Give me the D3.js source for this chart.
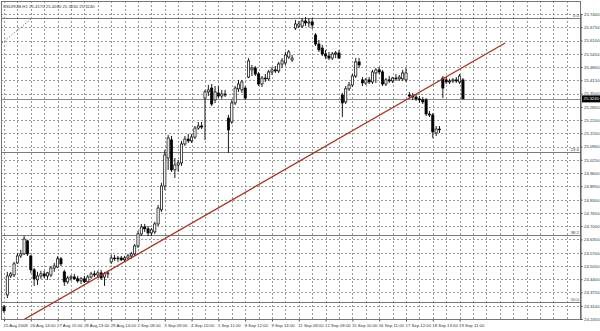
<!DOCTYPE html>
<html>
<head>
<meta charset="utf-8">
<script src="https://cdn.jsdelivr.net/npm/d3@7"></script>
<style>
  html, body { margin: 0; padding: 0; background: #fff; }
  svg { display: block; }
  text { font-family: "Liberation Sans", "DejaVu Sans", sans-serif; }
</style>
</head>
<body>
<svg id="chart" width="600" height="331"></svg>
<script>
// ---------- DATA ----------
const symbolTitle = "USDRUB,H1";

const openP = [
  24.304, 24.363, 24.456, 24.461, 24.520, 24.554, 24.564, 24.628, 24.554, 24.486,
  24.437, 24.456, 24.466, 24.456, 24.461, 24.495, 24.500, 24.540, 24.476, 24.427,
  24.446, 24.451, 24.442, 24.432, 24.442, 24.427, 24.451, 24.466, 24.461, 24.471,
  24.451, 24.466, 24.525, 24.544, 24.540, 24.544, 24.535, 24.544, 24.554, 24.564,
  24.603, 24.662, 24.696, 24.687, 24.667, 24.672, 24.711, 24.780, 24.897, 25.034,
  25.123, 24.976, 25.000, 25.010, 25.103, 25.127, 25.118, 25.137, 25.181, 25.191,
  25.328, 25.358, 25.377, 25.319, 25.353, 25.338, 25.348, 25.230, 25.211, 25.304,
  25.373, 25.368, 25.377, 25.431, 25.466, 25.475, 25.446, 25.397, 25.426, 25.422,
  25.456, 25.466, 25.461, 25.495, 25.500, 25.529, 25.515, 25.671, 25.681, 25.681,
  25.706, 25.696, 25.701, 25.637, 25.593, 25.573, 25.544, 25.534, 25.524, 25.544,
  25.549, 25.343, 25.309, 25.373, 25.392, 25.436, 25.505, 25.417, 25.402, 25.417,
  25.407, 25.451, 25.466, 25.456, 25.397, 25.417, 25.412, 25.426, 25.422, 25.422,
  25.417, 25.343, 25.338, 25.333, 25.324, 25.319, 25.319, 25.250, 25.245, 25.157,
  25.176, 25.426, 25.417, 25.407, 25.412, 25.417, 25.407, 25.417
];
const highP = [
  24.314, 24.476, 24.476, 24.525, 24.569, 24.584, 24.652, 24.633, 24.559, 24.495,
  24.476, 24.481, 24.481, 24.476, 24.505, 24.520, 24.554, 24.549, 24.486, 24.456,
  24.461, 24.466, 24.456, 24.451, 24.456, 24.461, 24.476, 24.481, 24.481, 24.486,
  24.476, 24.481, 24.559, 24.559, 24.554, 24.554, 24.554, 24.564, 24.574, 24.613,
  24.677, 24.711, 24.711, 24.701, 24.691, 24.721, 24.804, 24.912, 25.074, 25.147,
  25.142, 25.034, 25.025, 25.118, 25.142, 25.152, 25.152, 25.191, 25.211, 25.211,
  25.368, 25.392, 25.397, 25.387, 25.387, 25.368, 25.368, 25.245, 25.319, 25.387,
  25.417, 25.417, 25.387, 25.524, 25.490, 25.485, 25.456, 25.436, 25.446, 25.466,
  25.480, 25.485, 25.505, 25.524, 25.554, 25.564, 25.539, 25.711, 25.706, 25.720,
  25.725, 25.720, 25.720, 25.647, 25.613, 25.588, 25.564, 25.554, 25.554, 25.559,
  25.564, 25.353, 25.387, 25.407, 25.446, 25.524, 25.524, 25.431, 25.426, 25.431,
  25.466, 25.475, 25.480, 25.466, 25.426, 25.436, 25.431, 25.446, 25.441, 25.466,
  25.475, 25.358, 25.353, 25.348, 25.338, 25.333, 25.328, 25.265, 25.255, 25.191,
  25.191, 25.436, 25.431, 25.422, 25.426, 25.431, 25.446, 25.426
];
const lowP = [
  24.275, 24.348, 24.446, 24.451, 24.515, 24.544, 24.559, 24.554, 24.471, 24.407,
  24.412, 24.442, 24.446, 24.437, 24.451, 24.476, 24.495, 24.505, 24.407, 24.417,
  24.432, 24.437, 24.422, 24.417, 24.422, 24.422, 24.442, 24.451, 24.446, 24.437,
  24.407, 24.446, 24.515, 24.530, 24.525, 24.530, 24.525, 24.535, 24.540, 24.554,
  24.593, 24.652, 24.672, 24.652, 24.652, 24.662, 24.701, 24.770, 24.878, 24.976,
  24.966, 24.936, 24.966, 24.995, 25.093, 25.108, 25.108, 25.127, 25.172, 25.176,
  25.123, 25.338, 25.289, 25.304, 25.328, 25.324, 25.333, 25.059, 25.201, 25.294,
  25.358, 25.353, 25.319, 25.426, 25.436, 25.436, 25.387, 25.382, 25.407, 25.412,
  25.441, 25.451, 25.451, 25.475, 25.490, 25.520, 25.505, 25.662, 25.671, 25.671,
  25.681, 25.676, 25.667, 25.583, 25.554, 25.534, 25.520, 25.515, 25.515, 25.524,
  25.520, 25.235, 25.299, 25.363, 25.382, 25.426, 25.475, 25.387, 25.392, 25.397,
  25.397, 25.402, 25.446, 25.387, 25.387, 25.402, 25.402, 25.412, 25.412, 25.412,
  25.407, 25.324, 25.319, 25.314, 25.304, 25.299, 25.240, 25.235, 25.132, 25.142,
  25.157, 25.328, 25.397, 25.397, 25.402, 25.402, 25.397, 25.324
];
const closeP = [
  24.285, 24.456, 24.466, 24.515, 24.554, 24.564, 24.637, 24.564, 24.486, 24.442,
  24.456, 24.466, 24.456, 24.471, 24.495, 24.505, 24.540, 24.515, 24.427, 24.446,
  24.451, 24.442, 24.432, 24.442, 24.427, 24.451, 24.466, 24.461, 24.471, 24.446,
  24.466, 24.471, 24.544, 24.540, 24.544, 24.535, 24.544, 24.554, 24.564, 24.603,
  24.662, 24.696, 24.687, 24.667, 24.682, 24.711, 24.789, 24.897, 25.049, 25.132,
  24.976, 25.000, 25.010, 25.103, 25.127, 25.118, 25.137, 25.181, 25.191, 25.186,
  25.358, 25.368, 25.299, 25.358, 25.338, 25.348, 25.343, 25.172, 25.304, 25.377,
  25.397, 25.407, 25.328, 25.510, 25.475, 25.446, 25.397, 25.426, 25.422, 25.456,
  25.466, 25.461, 25.495, 25.510, 25.539, 25.554, 25.524, 25.691, 25.691, 25.706,
  25.696, 25.701, 25.686, 25.593, 25.564, 25.544, 25.534, 25.524, 25.544, 25.549,
  25.524, 25.304, 25.373, 25.392, 25.436, 25.505, 25.490, 25.402, 25.417, 25.407,
  25.456, 25.466, 25.456, 25.397, 25.417, 25.412, 25.426, 25.422, 25.431, 25.451,
  25.451, 25.338, 25.333, 25.324, 25.319, 25.309, 25.250, 25.245, 25.162, 25.176,
  25.172, 25.377, 25.407, 25.412, 25.417, 25.412, 25.436, 25.324
];

const priceTicks = [
  25.7400, 25.6750, 25.6100, 25.5450, 25.4800, 25.4150, 25.3500, 25.2850,
  25.2200, 25.1550, 25.0900, 25.0250, 24.9600, 24.8950, 24.8300, 24.7650,
  24.7000, 24.6350, 24.5700, 24.5050, 24.4400, 24.3750, 24.3100, 24.2450
];

const dateLabels = [
  "25 Aug 2008", "26 Aug 14:00", "27 Aug 15:00", "28 Aug 13:00", "29 Aug 14:00",
  "2 Sep 08:00", "3 Sep 09:00", "4 Sep 10:00", "5 Sep 11:00", "8 Sep 12:00",
  "9 Sep 14:00", "11 Sep 08:00", "12 Sep 09:00", "15 Sep 10:00", "16 Sep 11:00",
  "17 Sep 12:00", "18 Sep 13:00", "19 Sep 11:00"
];
const dateBarIndex = [0, 8, 16, 24, 32, 40, 48, 56, 64, 72, 80, 88, 96, 104, 112, 120, 128, 136];

// Fibonacci retracement
const fibHigh = 25.720;
const fibLow = 22.936;
const fibLevels = [0.0, 23.6, 38.2, 50.0];

// trend line (bar index, price)
const trendBars = [5.7, 149.6];
const trendPrices = [24.240, 25.598];

// dotted fib base line (bar index, price)
const fibBaseBars = [-0.6, 8.4];
const fibBasePrices = [25.598, 25.720];

// ---------- DRAW ----------
const W = 600, H = 331;
const plotL = 1, plotR = 581, plotT = 1, plotB = 320;
const nBars = openP.length;
const lastClose = closeP[nBars - 1];
const FS = 4.3;

const svg = d3.select("#chart");
svg.append("rect").attr("width", W).attr("height", H).attr("fill", "#fff");

const x = d3.scaleLinear().domain([0, 172]).range([4, 4 + 172 * 3.35]);
const y = d3.scaleLinear().domain([24.245, 25.74]).range([319, 14]);

svg.append("defs").append("clipPath").attr("id", "plotclip")
  .append("rect").attr("x", plotL).attr("y", plotT)
  .attr("width", plotR - plotL).attr("height", plotB - plotT);

const plot = svg.append("g").attr("clip-path", "url(#plotclip)");

// grid
const gridColor = "#9a9a9a";
plot.append("g").selectAll("line").data(priceTicks).join("line")
  .attr("x1", plotL).attr("x2", plotR)
  .attr("y1", d => Math.round(y(d)) + 0.5).attr("y2", d => Math.round(y(d)) + 0.5)
  .attr("stroke", gridColor).attr("stroke-width", 1).attr("stroke-dasharray", "2,2");
const vGrid = d3.range(0, 173, 4);
plot.append("g").selectAll("line").data(vGrid).join("line")
  .attr("x1", d => Math.round(x(d)) + 0.5).attr("x2", d => Math.round(x(d)) + 0.5)
  .attr("y1", plotT).attr("y2", plotB)
  .attr("stroke", gridColor).attr("stroke-width", 1).attr("stroke-dasharray", "2,2");

// fib levels
const fibPrice = l => fibHigh - l / 100 * (fibHigh - fibLow);
plot.append("g").selectAll("line").data(fibLevels).join("line")
  .attr("x1", plotL).attr("x2", plotR)
  .attr("y1", d => Math.round(y(fibPrice(d))) + 0.5).attr("y2", d => Math.round(y(fibPrice(d))) + 0.5)
  .attr("stroke", "#7a7a7a").attr("stroke-width", 1);

// bid line
plot.append("line")
  .attr("x1", plotL).attr("x2", plotR)
  .attr("y1", Math.round(y(lastClose)) + 0.5).attr("y2", Math.round(y(lastClose)) + 0.5)
  .attr("stroke", "#8a8a8a").attr("stroke-width", 1);

// dotted fib base line
plot.append("line")
  .attr("x1", x(fibBaseBars[0])).attr("y1", y(fibBasePrices[0]))
  .attr("x2", x(fibBaseBars[1])).attr("y2", y(fibBasePrices[1]))
  .attr("stroke", "#8a8a8a").attr("stroke-width", 1).attr("stroke-dasharray", "1.5,1.5");

// candles
const bars = d3.range(nBars).map(i => ({i, o: openP[i], h: highP[i], l: lowP[i], c: closeP[i]}));
const cg = plot.append("g");
cg.selectAll("line").data(bars).join("line")
  .attr("x1", d => x(d.i)).attr("x2", d => x(d.i))
  .attr("y1", d => y(d.h)).attr("y2", d => y(d.l))
  .attr("stroke", "#000").attr("stroke-width", 0.9);
cg.selectAll("rect").data(bars).join("rect")
  .attr("x", d => x(d.i) - 1.1).attr("width", 2.2)
  .attr("y", d => y(Math.max(d.o, d.c)))
  .attr("height", d => Math.max(0.6, Math.abs(y(d.o) - y(d.c))))
  .attr("fill", d => d.c >= d.o ? "#fff" : "#000")
  .attr("stroke", "#000").attr("stroke-width", 0.7);

// trend line
plot.append("line")
  .attr("x1", x(trendBars[0])).attr("y1", y(trendPrices[0]))
  .attr("x2", x(trendBars[1])).attr("y2", y(trendPrices[1]))
  .attr("stroke", "#a8321e").attr("stroke-width", 1.3);

// fib labels
plot.append("g").selectAll("text").data(fibLevels).join("text")
  .attr("x", plotR - 2).attr("y", d => y(fibPrice(d)) - 1.5)
  .attr("text-anchor", "end").attr("font-size", FS).attr("fill", "#444")
  .text(d => d.toFixed(1));

// frame
svg.append("rect").attr("x", plotL + 0.5).attr("y", plotT + 0.5)
  .attr("width", plotR - plotL - 1).attr("height", plotB - plotT - 1)
  .attr("fill", "none").attr("stroke", "#777").attr("stroke-width", 1);

// price axis
const yAxis = d3.axisRight(y).tickValues(priceTicks)
  .tickFormat(d3.format(".4f")).tickSize(2).tickPadding(1.5);
const ya = svg.append("g").attr("transform", `translate(${plotR - 0.5},0)`).call(yAxis);
ya.select(".domain").attr("stroke", "#555");
ya.selectAll(".tick line").attr("stroke", "#555");
ya.selectAll(".tick text").attr("font-size", FS).attr("fill", "#333")
  .attr("font-family", "Liberation Sans, sans-serif");

// current price box
const cpY = y(lastClose);
svg.append("rect").attr("x", plotR + 1).attr("y", cpY - 3.5).attr("width", 18.5).attr("height", 7).attr("fill", "#000");
svg.append("text").attr("x", plotR + 2.5).attr("y", cpY + 1.6)
  .attr("font-size", FS).attr("fill", "#fff").text(d3.format(".4f")(lastClose));

// time axis
const xAxis = d3.axisBottom(x).tickValues(dateBarIndex)
  .tickFormat((d, i) => dateLabels[i]).tickSize(2).tickPadding(2);
const xa = svg.append("g").attr("transform", `translate(0,${plotB - 0.5})`).call(xAxis);
xa.select(".domain").remove();
xa.selectAll(".tick line").attr("stroke", "#555");
xa.selectAll(".tick text").attr("font-size", FS).attr("fill", "#333")
  .attr("text-anchor", "start").attr("x", -1)
  .attr("font-family", "Liberation Sans, sans-serif");

// title
const b = bars[nBars - 1];
svg.append("text").attr("x", 3).attr("y", 8).attr("font-size", FS).attr("fill", "#333")
  .text(`${symbolTitle}  ${d3.format(".4f")(b.o)} ${d3.format(".4f")(b.h)} ${d3.format(".4f")(b.l)} ${d3.format(".4f")(b.c)}`);
</script>
</body>
</html>
